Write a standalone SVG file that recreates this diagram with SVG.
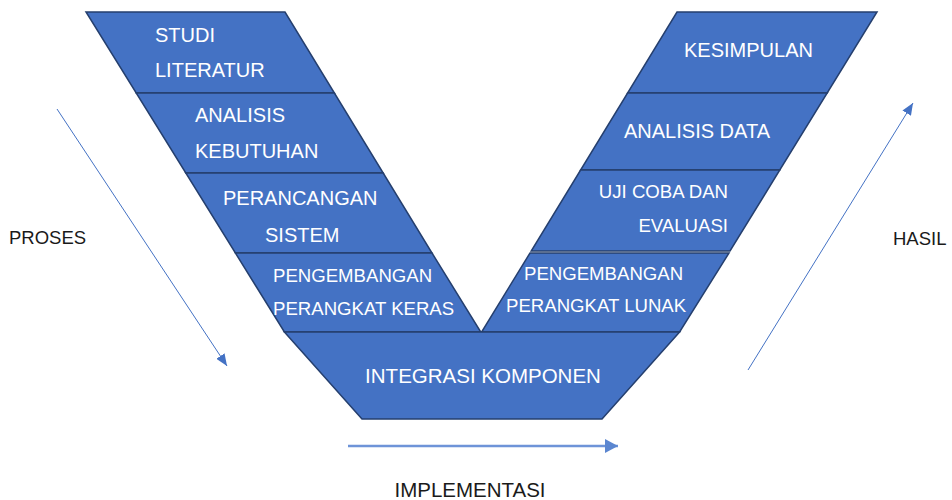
<svg xmlns="http://www.w3.org/2000/svg" width="952" height="500" viewBox="0 0 952 500">
<defs>
<marker id="ah" viewBox="0 0 12 10" refX="12" refY="5" markerWidth="12" markerHeight="10" markerUnits="userSpaceOnUse" orient="auto">
<path d="M0,0 L12,5 L0,10 Z" fill="#4472C4"/>
</marker>
<marker id="ah2" viewBox="0 0 13 14" refX="13" refY="7" markerWidth="13" markerHeight="14" markerUnits="userSpaceOnUse" orient="auto">
<path d="M0,0 L13,7 L0,14 Z" fill="#5B86D0"/>
</marker>
</defs>
<style>
.blk{fill:#4472C4;stroke:#253F6E;stroke-width:1.5;stroke-linejoin:miter}
.wt{fill:#ffffff;font-family:"Liberation Sans",Arial,sans-serif;font-size:20px}
.ws{fill:#ffffff;font-family:"Liberation Sans",Arial,sans-serif;font-size:18.6px}
.bt{fill:#1a1a1a;font-family:"Liberation Sans",Arial,sans-serif;font-size:18.5px}
.arr{stroke:#4472C4;stroke-width:1;fill:none}
</style>
<rect width="952" height="500" fill="#ffffff"/>
<g id="studi-literatur">
<polygon class="blk" points="86,12 285,12 334.4,93 136.2,93"/>
<text class="wt" x="155" y="42">STUDI</text>
<text class="wt" x="155" y="77">LITERATUR</text>
</g>
<g id="analisis-kebutuhan">
<polygon class="blk" points="136.2,93 334.4,93 383.2,173 185.8,173"/>
<text class="wt" x="195" y="122">ANALISIS</text>
<text class="wt" x="195" y="158">KEBUTUHAN</text>
</g>
<g id="perancangan-sistem">
<polygon class="blk" points="185.8,173 383.2,173 432,253 235.4,253"/>
<text class="wt" x="223" y="205">PERANCANGAN</text>
<text class="wt" x="265" y="242">SISTEM</text>
</g>
<g id="pengembangan-keras">
<polygon class="blk" points="235.4,253 432,253 480.8,332 284.4,332"/>
<text class="ws" x="273" y="282">PENGEMBANGAN</text>
<text class="ws" x="273" y="315">PERANGKAT KERAS</text>
</g>
<g id="kesimpulan">
<polygon class="blk" points="677,12 877,12 827.2,93 627.6,93"/>
<text class="wt" x="684" y="57">KESIMPULAN</text>
</g>
<g id="analisis-data">
<polygon class="blk" points="627.6,93 827.2,93 779.8,170 580.6,170"/>
<text class="wt" x="624" y="138">ANALISIS DATA</text>
</g>
<g id="uji-coba">
<polygon class="blk" points="580.6,170 779.8,170 730,251 531.2,251"/>
<text class="ws" x="728" y="198" text-anchor="end">UJI COBA DAN</text>
<text class="ws" x="728" y="232" text-anchor="end">EVALUASI</text>
</g>
<g id="pengembangan-lunak">
<polygon class="blk" points="530,253 729,253 679.6,332 481.6,332"/>
<text class="ws" x="524" y="280">PENGEMBANGAN</text>
<text class="ws" x="506" y="312">PERANGKAT LUNAK</text>
</g>
<g id="integrasi-komponen">
<polygon class="blk" points="284.4,332 679.6,332 602,419 362,419"/>
<text class="wt" x="483" y="383" text-anchor="middle" style="font-size:20.5px">INTEGRASI KOMPONEN</text>
</g>
<g id="connectors">
<line class="arr" x1="57" y1="109" x2="227" y2="366" marker-end="url(#ah)"/>
<line class="arr" x1="748" y1="370" x2="913" y2="103" marker-end="url(#ah)"/>
<line x1="348" y1="446" x2="618" y2="446" stroke="#6E94D8" stroke-width="2.4" marker-end="url(#ah2)"/>
</g>
<g id="labels">
<text class="bt" x="9" y="244">PROSES</text>
<text class="bt" x="893" y="245">HASIL</text>
<text class="bt" x="470" y="497" text-anchor="middle" style="font-size:20.5px">IMPLEMENTASI</text>
</g>
</svg>
